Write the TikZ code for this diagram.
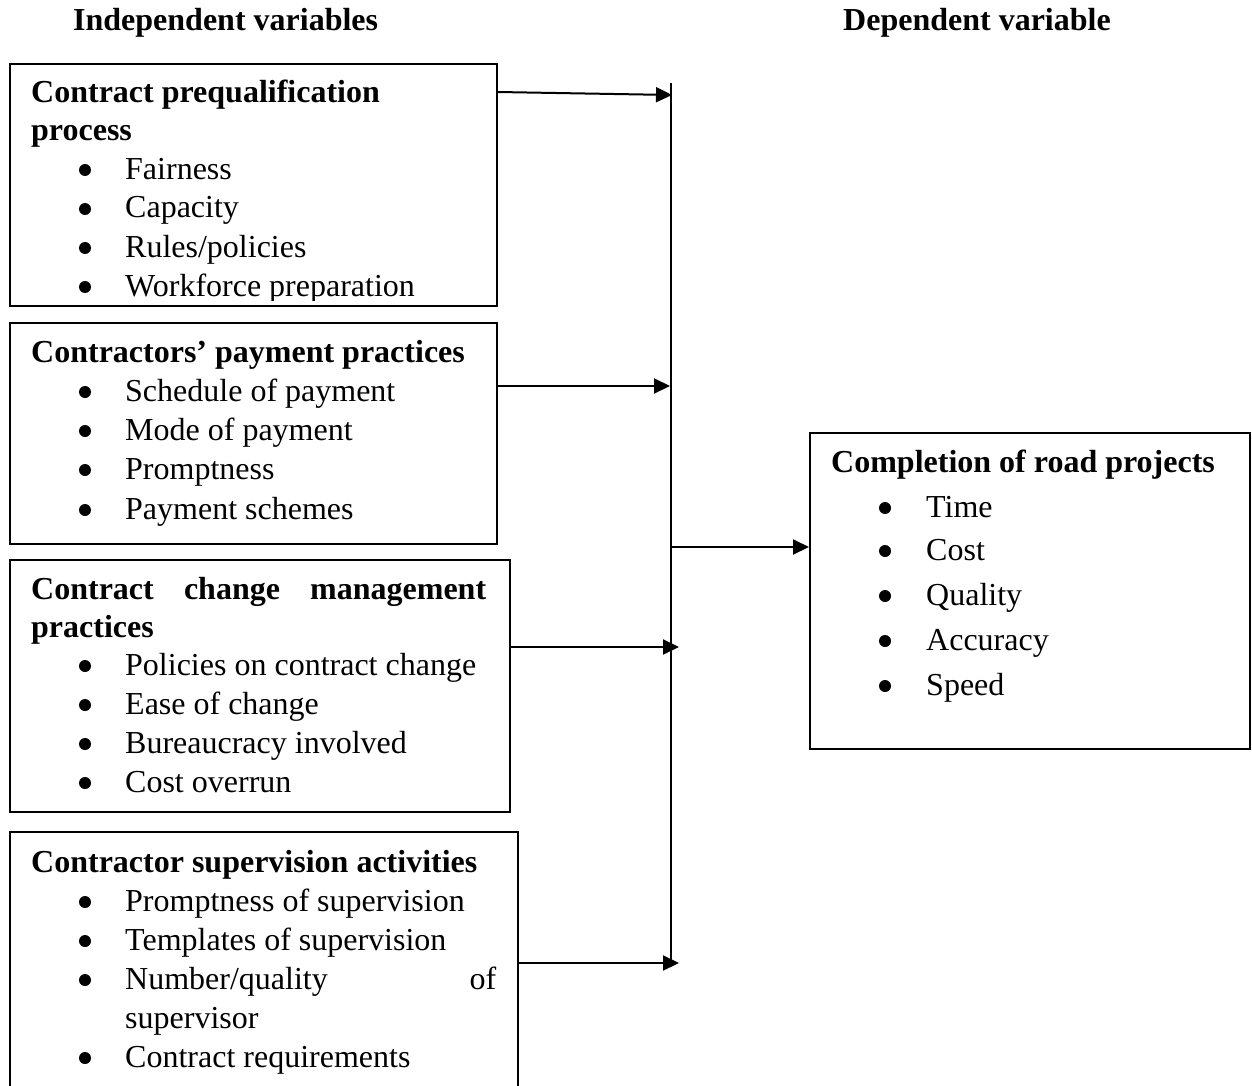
\documentclass[tikz,border=0pt]{standalone}
\usepackage{fontspec}
\setmainfont{Liberation Serif}
\usetikzlibrary{arrows.meta,calc}
\begin{document}
\begin{tikzpicture}[x=1pt,y=-1pt,
  box/.style={draw,line width=1.8pt,rectangle,anchor=north west,inner sep=0pt},
  txt/.style={anchor=base west,inner sep=0pt,font=\fontsize{32}{39}\selectfont},
  head/.style={anchor=base west,inner sep=0pt,font=\fontsize{32}{39}\selectfont\bfseries},
  dot/.style={circle,fill,inner sep=0pt,minimum size=12pt},
  arr/.style={line width=2pt,-{Triangle[length=16pt,width=15pt]}},
  wire/.style={line width=1.8pt}]
\clip (0,0) rectangle (1252,1086);
% headers
\node[head] (h1) at (73,31) {Independent variables};
\node[head] (h2) at (843,31) {Dependent variable};
% box 1
\node[box,minimum width=487pt,minimum height=242pt] (b1) at (9,63) {};
\begin{scope}
\clip (9,63) rectangle (496,300);
\node[head] (t1a) at (31,103) {Contract prequalification};
\node[head] (t1b) at (31,141) {process};
\node[dot] (d11) at (85,170) {}; \node[txt] (t11) at (125,179) {Fairness};
\node[dot] (d12) at (85,209) {}; \node[txt] (t12) at (125,218) {Capacity};
\node[dot] (d13) at (85,248) {}; \node[txt] (t13) at (125,257) {Rules/policies};
\node[dot] (d14) at (85,287) {}; \node[txt] (t14) at (125,296) {Workforce preparation};
\end{scope}
% box 2
\node[box,minimum width=487pt,minimum height=221pt] (b2) at (9,322) {};
\node[head] (t2a) at (31,362) {Contractors’ payment practices};
\node[dot] (d21) at (85,392) {}; \node[txt] (t21) at (125,401) {Schedule of payment};
\node[dot] (d22) at (85,431) {}; \node[txt] (t22) at (125,440) {Mode of payment};
\node[dot] (d23) at (85,470) {}; \node[txt] (t23) at (125,479) {Promptness};
\node[dot] (d24) at (85,510) {}; \node[txt] (t24) at (125,519) {Payment schemes};
% box 3
\node[box,minimum width=500pt,minimum height=252pt] (b3) at (9,559) {};
\node[head] (t3a) at (31,599) {\hbox to 455pt{Contract\hfill change\hfill management}};
\node[head] (t3b) at (31,637) {practices};
\node[dot] (d31) at (85,666) {}; \node[txt] (t31) at (125,675) {Policies on contract change};
\node[dot] (d32) at (85,705) {}; \node[txt] (t32) at (125,714) {Ease of change};
\node[dot] (d33) at (85,744) {}; \node[txt] (t33) at (125,753) {Bureaucracy involved};
\node[dot] (d34) at (85,783) {}; \node[txt] (t34) at (125,792) {Cost overrun};
% box 4
\node[box,minimum width=508pt,minimum height=280pt] (b4) at (9,831) {};
\node[head] (t4a) at (31,872) {Contractor supervision activities};
\node[dot] (d41) at (85,902) {}; \node[txt] (t41) at (125,911) {Promptness of supervision};
\node[dot] (d42) at (85,941) {}; \node[txt] (t42) at (125,950) {Templates of supervision};
\node[dot] (d43) at (85,980) {}; \node[txt] (t43) at (125,989) {\hbox to 371pt{Number/quality\hfill of}};
\node[txt] (t44) at (125,1028) {supervisor};
\node[dot] (d45) at (85,1058) {}; \node[txt] (t45) at (125,1067) {Contract requirements};
% box 5
\node[box,minimum width=440pt,minimum height=316pt] (b5) at (809,432) {};
\node[head] (t5a) at (831,472) {Completion of road projects};
\node[dot] (d51) at (885,508) {}; \node[txt] (t51) at (926,517) {Time};
\node[dot] (d52) at (885,551) {}; \node[txt] (t52) at (926,560) {Cost};
\node[dot] (d53) at (885,596) {}; \node[txt] (t53) at (926,605) {Quality};
\node[dot] (d54) at (885,641) {}; \node[txt] (t54) at (926,650) {Accuracy};
\node[dot] (d55) at (885,686) {}; \node[txt] (t55) at (926,695) {Speed};
% bus and arrows
\coordinate (bt) at (671,83);
\coordinate (bb) at (671,963);
\coordinate (e1) at (672,95);
\coordinate (e2) at (670,386);
\coordinate (e3) at (679,647);
\coordinate (e4) at (679,963);
\coordinate (bm) at (671,547);
\draw[wire] (bt) -- (bb);
\draw[arr] ($(b1.north east)+(0,29)$) -- (e1);
\draw[arr] ($(b2.north east)+(0,64)$) -- (e2);
\draw[arr] ($(b3.north east)+(0,88)$) -- (e3);
\draw[arr] ($(b4.north east)+(0,132)$) -- (e4);
\draw[arr] (bm) -- ($(b5.north west)+(0,115)$);
\end{tikzpicture}
\end{document}
